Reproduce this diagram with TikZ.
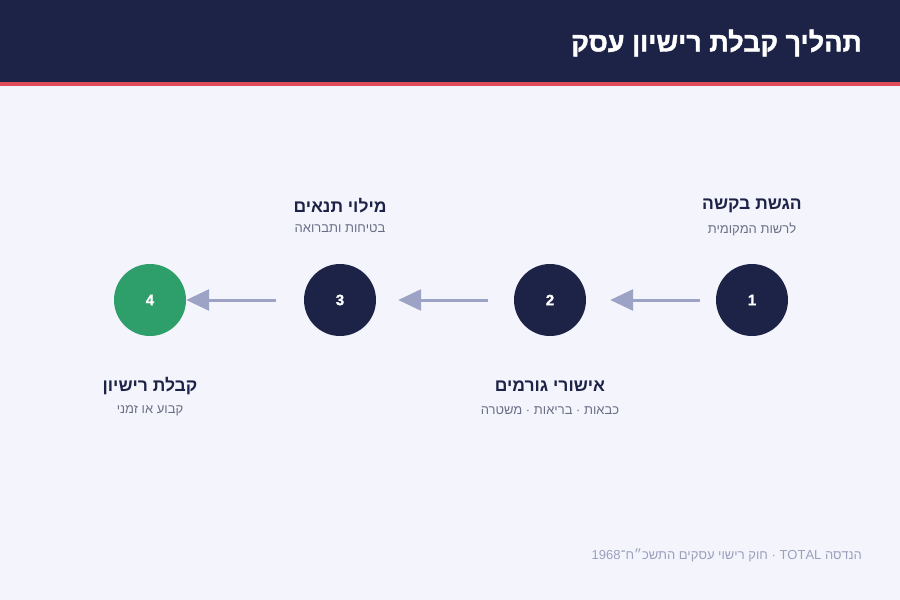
\documentclass[tikz,border=0pt]{standalone}
\usepackage{fontspec}
\setmainfont{Liberation Sans}
\newfontfamily\hefont[Script=Hebrew]{Liberation Sans}
\newfontfamily\hefontheavy[Script=Hebrew, FakeBold=1.5]{Liberation Sans Bold}
\TeXXeTstate=1
\usetikzlibrary{arrows.meta}
\definecolor{navy}{HTML}{1D2247}
\definecolor{bgc}{HTML}{F4F5FC}
\definecolor{redline}{HTML}{E04B5B}
\definecolor{arrowc}{HTML}{9CA3C5}
\definecolor{greenc}{HTML}{2E9E6B}
\definecolor{subc}{HTML}{6A6F85}
\definecolor{footc}{HTML}{9AA0BC}
\tikzset{
  stepcirc/.style={circle, fill=navy, minimum size=72pt, inner sep=0pt, text=white, font=\hefontheavy\fontsize{15}{18}\selectfont},
  steptitle/.style={text=navy, font=\hefont\bfseries\fontsize{17.5}{20}\selectfont, inner sep=0pt},
  stepsub/.style={text=subc, font=\hefont\fontsize{13}{15}\selectfont, inner sep=0pt},
  flow/.style={draw=arrowc, line width=3pt, -{Triangle[length=23pt,width=21pt]}}
}
\begin{document}
\begin{tikzpicture}[x=1pt,y=-1pt]
\useasboundingbox (0,0) rectangle (900,600);
\fill[bgc] (0,0) rectangle (900,600);
\fill[navy] (0,0) rectangle (900,82);
\fill[redline] (0,82) rectangle (900,86);
\node[anchor=east, inner sep=0pt, text=white, font=\hefontheavy\fontsize{27}{30}\selectfont] (title) at (862,43) {\beginR תהליך קבלת רישיון עסק\endR};

\node[stepcirc] (c1) at (752,300) {1};
\node[stepcirc] (c2) at (550,300) {2};
\node[stepcirc] (c3) at (340,300) {3};
\node[stepcirc, fill=greenc] (c4) at (150,300) {4};

\draw[flow, shorten <=16pt, shorten >=24pt] (c1) -- (c2);
\draw[flow, shorten <=26pt, shorten >=22pt] (c2) -- (c3);
\draw[flow, shorten <=28pt, shorten >=0pt] (c3) -- (c4);

\node[steptitle] (t1) at (752,206) {\beginR הגשת בקשה\endR};
\node[stepsub] (s1) at (752,229) {\beginR לרשות המקומית\endR};
\node[steptitle] (t3) at (340,206) {\beginR מילוי תנאים\endR};
\node[stepsub] (s3) at (340,229) {\beginR בטיחות ותברואה\endR};
\node[steptitle] (t2) at (550,386) {\beginR אישורי גורמים\endR};
\node[stepsub] (s2) at (550,411) {\beginR כבאות · בריאות · משטרה\endR};
\node[steptitle] (t4) at (150,386) {\beginR קבלת רישיון\endR};
\node[stepsub] (s4) at (150,411) {\beginR קבוע או זמני\endR};

\node[anchor=east, inner sep=0pt, text=footc, font=\hefont\fontsize{13}{15}\selectfont] (foot) at (862,555) {\beginR הנדסה \beginL TOTAL\endL{} · חוק רישוי עסקים התשכ״ח־\beginL 1968\endL\endR};
\end{tikzpicture}
\end{document}
